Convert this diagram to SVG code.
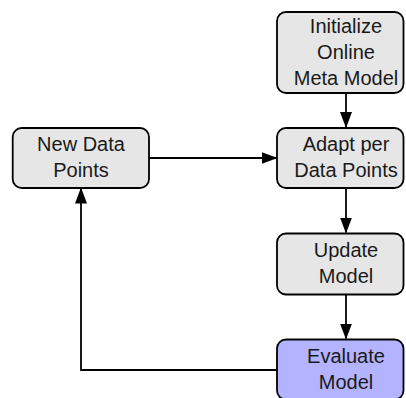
<svg xmlns="http://www.w3.org/2000/svg" width="406" height="398" viewBox="0 0 406 398">
<style>
.box{fill:#e6e6e6;stroke:#000;stroke-width:1.8}
.eval{fill:#b3b3ff;stroke:#000;stroke-width:1.8}
text{font-family:"Liberation Sans",Arial,sans-serif;font-size:20px;fill:#1a1a1a;text-anchor:middle}
.conn{fill:none;stroke:#000;stroke-width:1.8}
</style>
<defs>
<marker id="arr" markerWidth="16" markerHeight="12" refX="15" refY="6" orient="auto" markerUnits="userSpaceOnUse">
<path d="M0,0 L16,6 L0,12 z" fill="#000"/>
</marker>
</defs>
<g id="init">
<rect class="box" x="277" y="12" width="126.5" height="81" rx="9"/>
<text x="346" y="33">Initialize</text>
<text x="346" y="59">Online</text>
<text x="346" y="85">Meta Model</text>
</g>
<g id="newdata">
<rect class="box" x="12.7" y="128" width="136.3" height="60" rx="9"/>
<text x="81" y="151">New Data</text>
<text x="81" y="177">Points</text>
</g>
<g id="adapt">
<rect class="box" x="277" y="128" width="126.5" height="60" rx="9"/>
<text x="346" y="151">Adapt per</text>
<text x="346" y="177">Data Points</text>
</g>
<g id="update">
<rect class="box" x="277" y="233.5" width="126.5" height="61" rx="9"/>
<text x="346" y="257">Update</text>
<text x="346" y="283">Model</text>
</g>
<g id="evaluate">
<rect class="eval" x="277" y="339.5" width="126.5" height="60" rx="9"/>
<text x="346" y="362.5">Evaluate</text>
<text x="346" y="388.5">Model</text>
</g>
<g id="connectors">
<path class="conn" d="M346,93 L346,127" marker-end="url(#arr)"/>
<path class="conn" d="M149,158 L276.5,158" marker-end="url(#arr)"/>
<path class="conn" d="M346,188 L346,232.5" marker-end="url(#arr)"/>
<path class="conn" d="M346,294.5 L346,338.5" marker-end="url(#arr)"/>
<path class="conn" d="M277,370 L81,370 L81,188.5" marker-end="url(#arr)"/>
</g>
</svg>
